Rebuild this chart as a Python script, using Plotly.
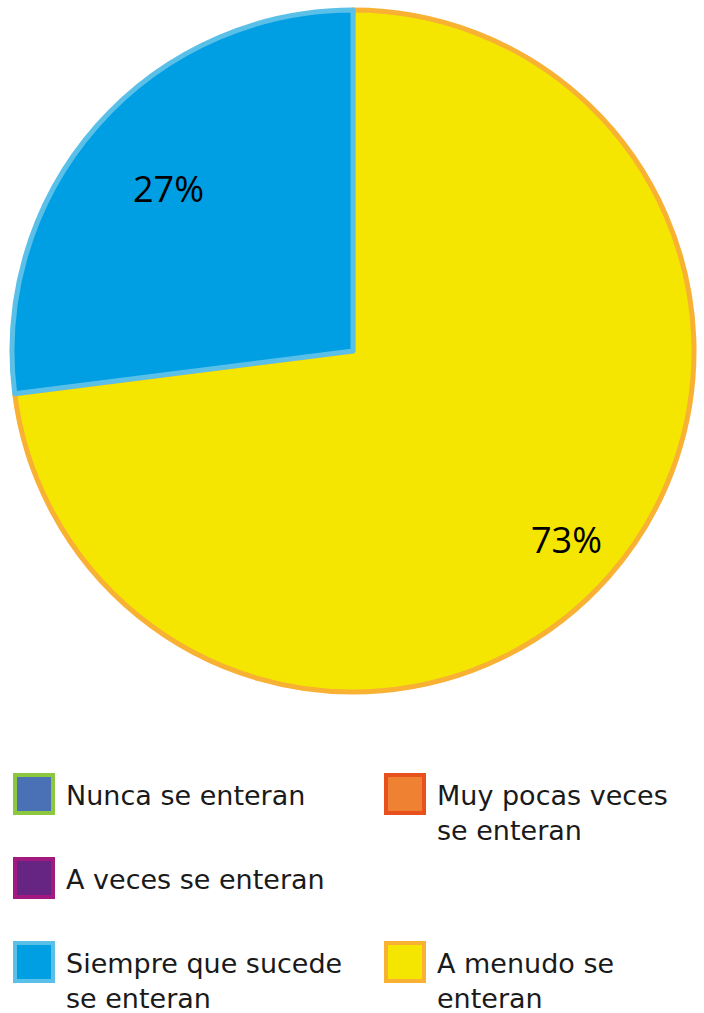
import math
import plotly.graph_objects as go

categories = ["Nunca se enteran", "Muy pocas veces<br>se enteran", "A veces se enteran",
              "Siempre que sucede<br>se enteran", "A menudo se<br>enteran"]
values = [0, 0, 0, 27, 73]
fill_colors = ["#4A70B5", "#EF8133", "#662483", "#009FE3", "#F4E600"]
border_colors = ["#8DC63F", "#E8501E", "#A2197F", "#5BC0E8", "#F8B133"]

# pie draws the non-zero categories: A menudo clockwise from 12 o'clock, then Siempre
pie_order = [4, 3]
label_radius = {3: 0.72, 4: 0.835}   # fraction of radius for percent labels
pie_labels = [categories[i] for i in pie_order]
pie_values = [values[i] for i in pie_order]
pie_fill = [fill_colors[i] for i in pie_order]
pie_border = [border_colors[i] for i in pie_order]

W, H = 704, 1013
CX, CY, R = 353, 351, 341   # pixel geometry of the pie
fig = go.Figure()
fig.add_trace(go.Pie(
    labels=pie_labels, values=pie_values, sort=False,
    direction="clockwise", rotation=0,
    marker=dict(colors=pie_fill, line=dict(color=pie_border, width=5)),
    textinfo="none",
    domain=dict(x=[(CX - R) / W, (CX + R) / W], y=[(H - CY - R) / H, (H - CY + R) / H]),
    showlegend=False, hoverinfo="label+percent",
))

annotations = []
total = sum(pie_values)
cum = 0
for idx, v in zip(pie_order, pie_values):
    mid = (cum + v / 2) / total * 2 * math.pi   # clockwise from 12 o'clock
    cum += v
    rl = label_radius[idx] * R
    px = CX + rl * math.sin(mid)
    py = CY - rl * math.cos(mid)
    annotations.append(dict(text=f"{round(v / total * 100)}%", xref="paper", yref="paper",
                            x=px / W, y=(H - py) / H, xanchor="center", yanchor="middle",
                            showarrow=False,
                            font=dict(family="Open Sans", size=36, color="#000000")))

# legend layout: (column x of square, top y of square) in pixels
legend_pos = [(13, 773), (384, 773), (13, 857), (13, 941), (384, 941)]
shapes = []
for (x, y), name, fc, bc in zip(legend_pos, categories, fill_colors, border_colors):
    size = 42
    shapes.append(dict(type="rect", xref="paper", yref="paper",
                       x0=(x + 2) / W, x1=(x + size - 2) / W,
                       y0=(H - y - size + 2) / H, y1=(H - y - 2) / H,
                       fillcolor=fc, line=dict(color=bc, width=4)))
    annotations.append(dict(text=name, xref="paper", yref="paper",
                            x=(x + 51) / W, y=(H - y - 5) / H,
                            xanchor="left", yanchor="top", align="left",
                            showarrow=False,
                            font=dict(family="DejaVu Sans", size=27, color="#1a1a1a")))

fig.update_layout(width=W, height=H, margin=dict(l=0, r=0, t=0, b=0),
                  paper_bgcolor="white", plot_bgcolor="white",
                  shapes=shapes, annotations=annotations)
fig.write_html("out.html", config={"displayModeBar": False},
               post_script="document.body.style.margin='0';")
